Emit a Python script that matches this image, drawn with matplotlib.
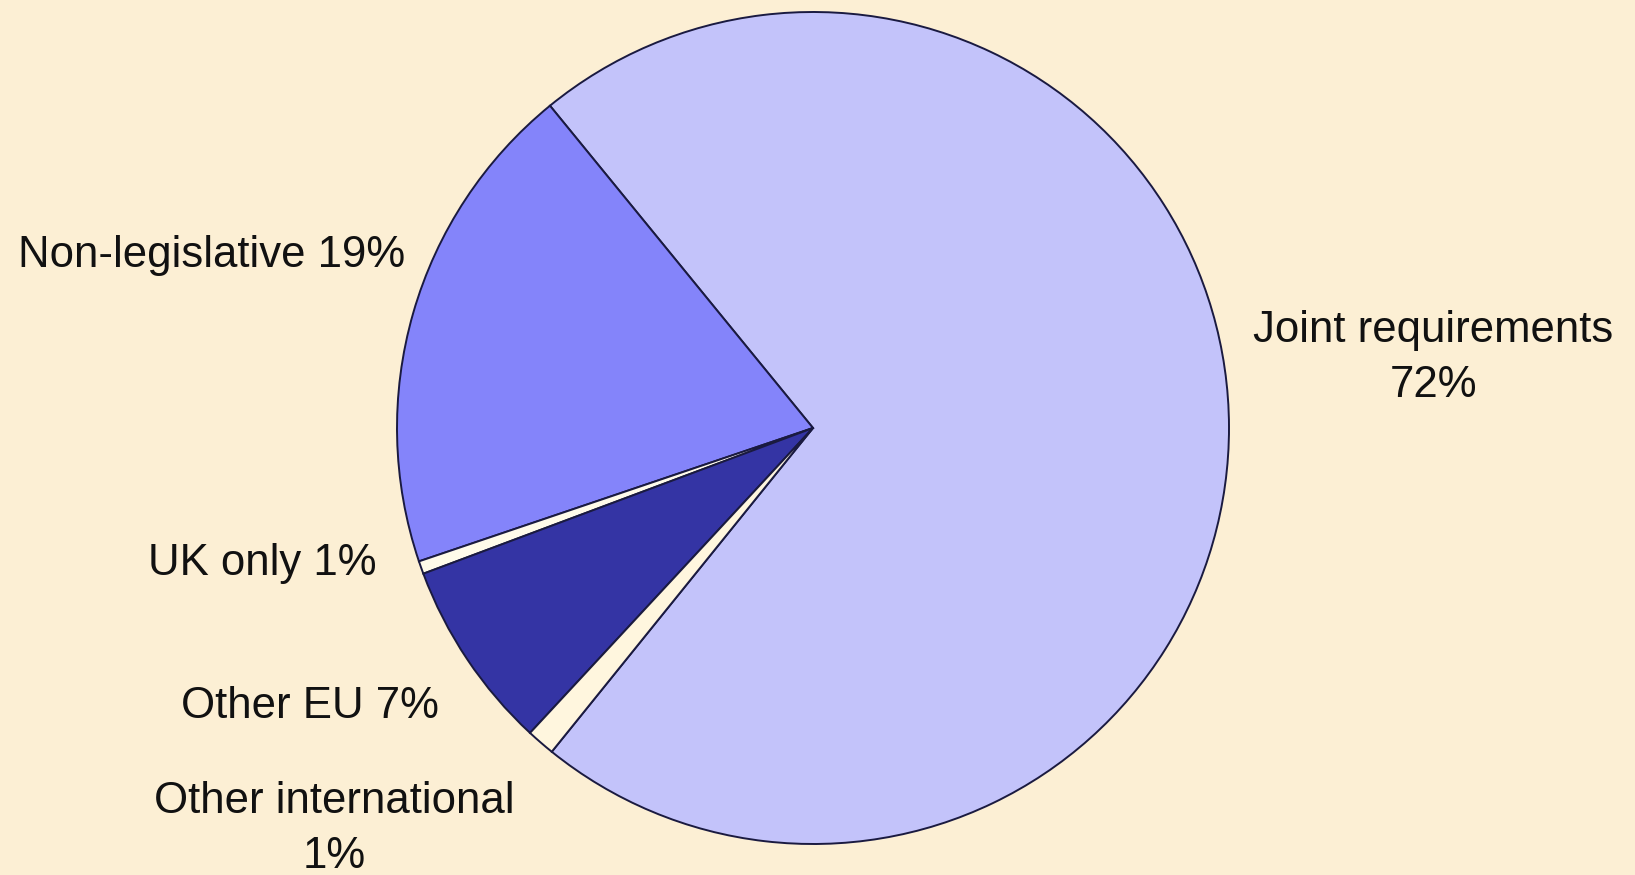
import matplotlib.pyplot as plt
import numpy as np

plt.rcParams['font.family'] = ['Liberation Sans', 'DejaVu Sans']

# shares (labels show the rounded numbers)
categories = ["Joint requirements", "Non-legislative", "UK only",
              "Other EU", "Other international"]
shares = [71.7, 19.3, 0.5, 7.4, 1.1]
labels = ["Joint requirements\n72%", "Non-legislative 19%", "UK only 1%",
          "Other EU 7%", "Other international\n1%"]

colors = ["#C3C3FA", "#8484FA", "#FFFBEA", "#3434A4", "#FFF6DE"]
bg = "#FCEFD4"

W, H = 1635, 875
cx, cy, R = 813, 428, 416
# label centres in pixels (layout only)
label_px = [(1433, 358), (212, 255), (262, 563), (310, 706), (334, 829)]


def to_data(px, py):
    return (px - cx) / R, (cy - py) / R


fig = plt.figure(figsize=(W / 100, H / 100), dpi=100, facecolor=bg)
ax = fig.add_axes([0, 0, 1, 1])
ax.set_facecolor(bg)

ax.pie(shares, colors=colors, startangle=231.1, counterclock=True,
       radius=1, center=(0, 0),
       wedgeprops=dict(edgecolor="#1a1a40", linewidth=1.4))

for lab, (px, py) in zip(labels, label_px):
    x, y = to_data(px, py)
    ax.text(x, y, lab, ha="center", va="center", fontsize=31.5,
            color="#111111", multialignment="center", linespacing=1.45)

ax.set_xlim(-cx / R, (W - cx) / R)
ax.set_ylim(-(H - cy) / R, cy / R)
ax.set_aspect("equal")
ax.axis("off")

fig.savefig("out.png", dpi=100, facecolor=bg)
